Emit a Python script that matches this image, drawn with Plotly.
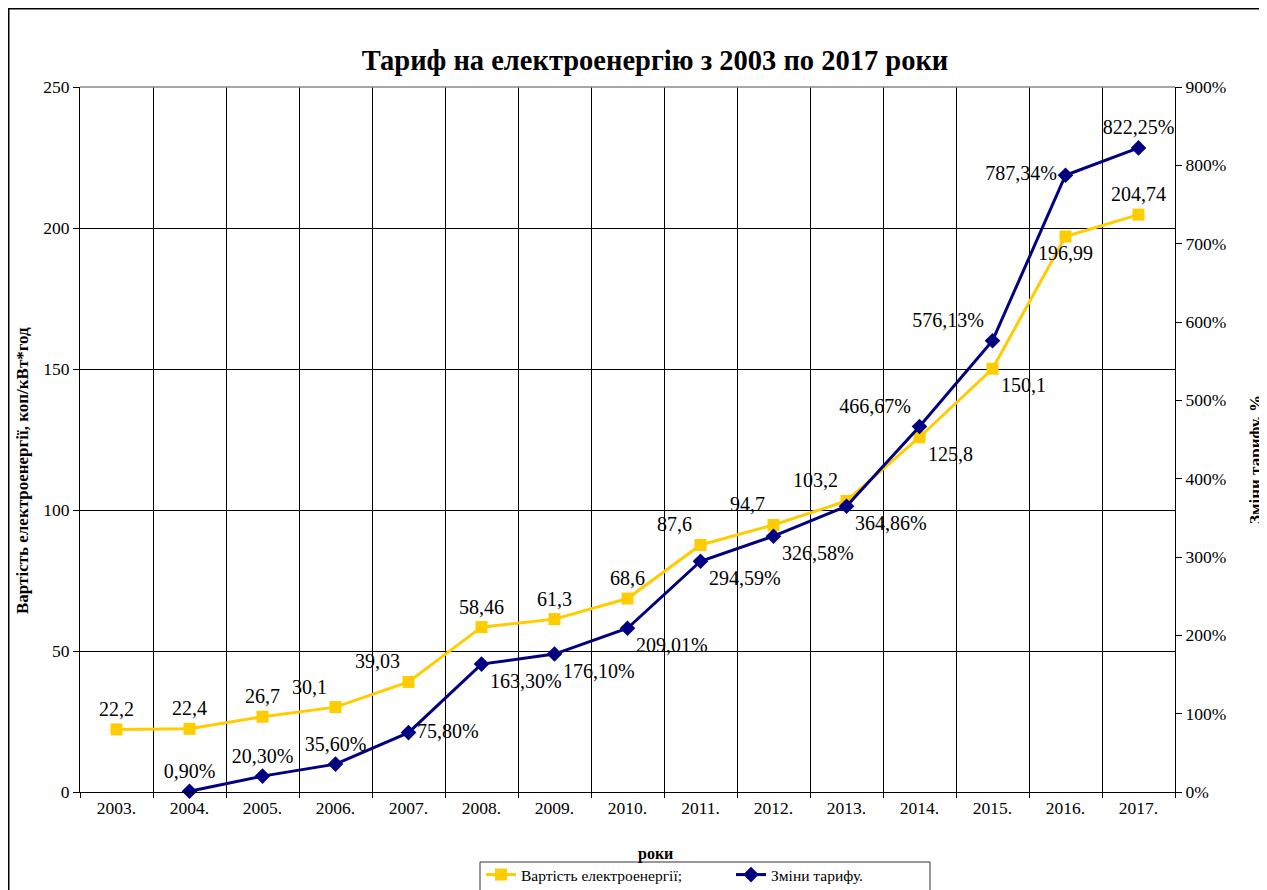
import plotly.graph_objects as go

# categories and values
years = ["2003.", "2004.", "2005.", "2006.", "2007.", "2008.", "2009.", "2010.",
         "2011.", "2012.", "2013.", "2014.", "2015.", "2016.", "2017."]
price = [22.2, 22.4, 26.7, 30.1, 39.03, 58.46, 61.3, 68.6,
         87.6, 94.7, 103.2, 125.8, 150.1, 196.99, 204.74]
change_years = years[1:]
change_pct = [0.90, 20.30, 35.60, 75.80, 163.30, 176.10, 209.01,
              294.59, 326.58, 364.86, 466.67, 576.13, 787.34, 822.25]

price_text = [str(v).replace(".", ",") for v in price]
change_text = [f"{v:.2f}%".replace(".", ",") for v in change_pct]

price_pos = ["top center", "top center", "top center", "top left", "top left",
             "top center", "top center", "top center", "top left", "top left",
             "top left", "bottom right", "bottom right", "bottom center", "top center"]
change_pos = ["top center", "top center", "top center", "middle right", "bottom right",
              "bottom right", "bottom right", "bottom right", "bottom right",
              "bottom right", "top left", "top left", "middle left", "top center"]

FONT = "Liberation Serif"
# page has an 8px body margin, so the figure starts at (8, 8) on screen
W, H = 1259, 882
L, R, T, B = 72, 92, 79, 98
pw, ph = W - L - R, H - T - B


def px(x):
    """screen x -> paper x"""
    return (x - 8 - L) / pw


def py(y):
    """screen y -> paper y"""
    return (H - B - (y - 8)) / ph


fig = go.Figure()

fig.add_trace(go.Scatter(
    x=years, y=price, name="Вартість електроенергії;",
    mode="lines+markers+text",
    line=dict(color="#FFCC00", width=3),
    marker=dict(symbol="square", size=12, color="#FFCC00"),
    text=price_text, textposition=price_pos,
    textfont=dict(family=FONT, size=20, color="black"),
    yaxis="y", cliponaxis=False,
))

fig.add_trace(go.Scatter(
    x=change_years, y=change_pct, name="Зміни тарифу.",
    mode="lines+markers+text",
    line=dict(color="#000080", width=3),
    marker=dict(symbol="diamond", size=12, color="#000080"),
    text=change_text, textposition=change_pos,
    textfont=dict(family=FONT, size=20, color="black"),
    yaxis="y2", cliponaxis=False,
))

fig.update_layout(
    width=W, height=H,
    margin=dict(l=L, r=R, t=T, b=B, autoexpand=False),
    plot_bgcolor="white", paper_bgcolor="white",
    font=dict(family=FONT, size=14, color="black"),
    title=dict(
        text="<b>Тариф на електроенергію з 2003 по 2017 роки</b>",
        x=(655 - 8) / W, y=1 - (60 - 8) / H, xanchor="center", yanchor="middle",
        font=dict(family=FONT, size=28.5, color="black"),
    ),
    xaxis=dict(
        type="category", categoryorder="array", categoryarray=years,
        range=[-0.5, len(years) - 0.5],
        tickson="boundaries", ticks="outside", ticklen=5, tickcolor="black",
        showgrid=True, gridcolor="black", gridwidth=1,
        showline=True, linecolor="black", linewidth=1,
        tickfont=dict(family=FONT, size=17.5), zeroline=False,
    ),
    yaxis=dict(
        range=[0, 250], dtick=50, showgrid=True, gridcolor="black", gridwidth=1,
        showline=True, linecolor="black", linewidth=1,
        ticks="outside", ticklen=6, tickcolor="black",
        tickfont=dict(family=FONT, size=17.5), zeroline=False,
    ),
    yaxis2=dict(
        range=[0, 900], dtick=100, ticksuffix="%", overlaying="y", side="right",
        showgrid=False, showline=True, linecolor="black", linewidth=1,
        ticks="outside", ticklen=6, tickcolor="black",
        tickfont=dict(family=FONT, size=17.5), zeroline=False,
    ),
    showlegend=True,
    legend=dict(
        orientation="h", x=px(481), y=py(858), xanchor="left", yanchor="top",
        borderwidth=0, entrywidth=205, bgcolor="rgba(0,0,0,0)",
        font=dict(family=FONT, size=15.5),
    ),
    annotations=[
        dict(text="<b>роки</b>", x=px(655), y=py(854), xref="paper", yref="paper",
             xanchor="center", yanchor="middle",
             showarrow=False, font=dict(family=FONT, size=16)),
        dict(text="<b>Вартість електроенергії, коп/кВт*год</b>", x=px(22), y=py(471),
             xref="paper", yref="paper", xanchor="center", yanchor="middle",
             textangle=-90, showarrow=False, font=dict(family=FONT, size=17)),
        dict(text="<b>Зміни тарифу, %</b>", x=px(1255), y=py(460),
             xref="paper", yref="paper", xanchor="center", yanchor="middle",
             textangle=-90, showarrow=False, font=dict(family=FONT, size=17)),
    ],
    shapes=[
        dict(type="line", xref="paper", yref="paper", x0=0, x1=1, y0=1, y1=1,
             line=dict(color="#888888", width=1.5)),
        dict(type="rect", xref="paper", yref="paper",
             x0=px(8.75), x1=px(1300), y0=py(920), y1=py(8.75),
             line=dict(color="black", width=1.5)),
        dict(type="rect", xref="paper", yref="paper",
             x0=px(480), x1=px(930), y0=py(900), y1=py(862),
             line=dict(color="#333333", width=1)),
    ],
)

fig.write_html("out.html")
